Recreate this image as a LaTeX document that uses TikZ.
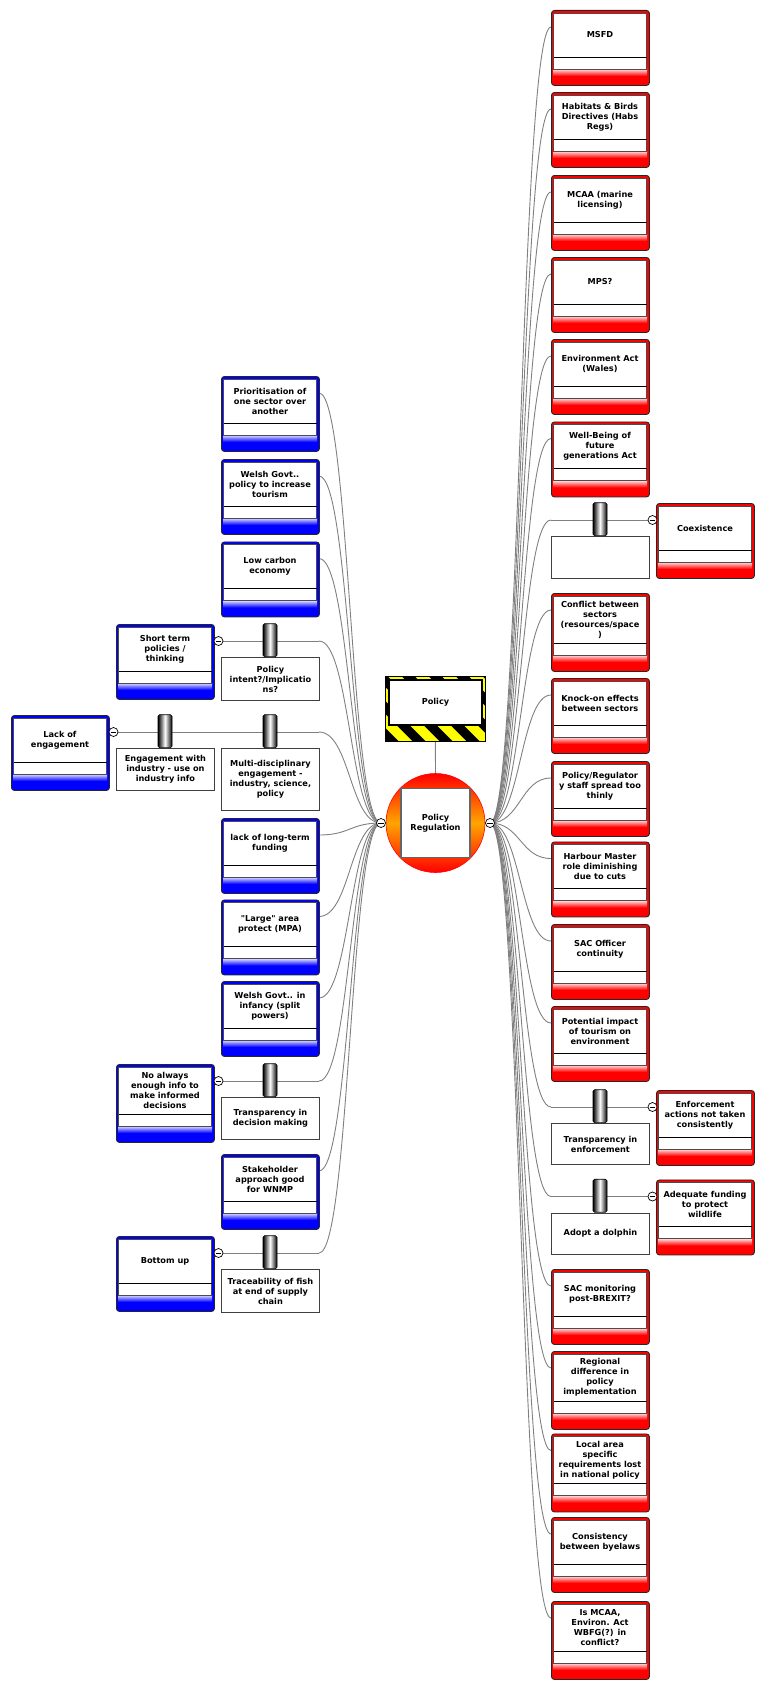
\documentclass[tikz,border=0pt]{standalone}
\usepackage{fontspec}
\setmainfont{DejaVu Sans}[Ligatures=TeXOff]
\usetikzlibrary{calc,backgrounds}

\definecolor{linkgray}{RGB}{128,128,128}
\definecolor{topicred}{RGB}{255,0,0}
\definecolor{topicblue}{RGB}{0,0,255}
\definecolor{huborange}{RGB}{255,165,0}
\definecolor{hazard}{RGB}{255,255,0}

\tikzset{
  link/.style={draw=linkgray, line width=0.9pt},
  hlink/.style={to path={let \p1=(\tikztostart), \p2=(\tikztotarget) in
      .. controls ({(\x1+\x2)/2},\y1) and ({(\x1+\x2)/2},\y2) .. (\tikztotarget)}},
  topicframe/.style={draw=black!85, line width=0.9pt, rounded corners=3pt,
      inner sep=0pt, minimum width=98pt},
  panel/.style={draw=black!70, line width=0.8pt, fill=white},
  divider/.style={draw=black, line width=0.8pt},
  lbl/.style={font=\fontsize{8.2}{10}\selectfont\bfseries, align=center, inner sep=0pt},
  jbox/.style={draw=black!75, line width=0.9pt, fill=white, minimum width=98pt,
      inner sep=0pt, anchor=north west, font=\fontsize{8.2}{10}\selectfont\bfseries,
      align=center},
  barnode/.style={draw=black, line width=0.6pt, minimum width=14pt, minimum height=33pt,
      inner sep=0pt, left color=black, right color=black, middle color=white,
      anchor=south, rounded corners=1.5pt},
  minus/.style={circle, draw=black, fill=white, line width=0.7pt, minimum size=9pt,
      inner sep=0pt,
      path picture={\draw[line width=0.8pt]
        ([xshift=-2.6pt]path picture bounding box.center) --
        ([xshift=2.6pt]path picture bounding box.center);}},
}

% topic card: #1 name, #2 left x, #3 top y, #4 colour, #5 height, #6 text
\newcommand{\topic}[6]{%
  \pgfmathsetmacro{\tR}{#2+98}%
  \pgfmathsetmacro{\tD}{#3+#5-28}%
  \pgfmathsetmacro{\tI}{#3+#5-16}%
  \pgfmathsetmacro{\tC}{(2*#3+#5-25)/2}%
  \node[topicframe, fill=#4, minimum height=#5pt, anchor=north west] (#1) at (#2,#3) {};
  \shade[top color=#4!12, bottom color=#4] (#2+2,\tI) rectangle (\tR-2,\tI+7);
  \draw[panel] (#2+2.5,#3+3) rectangle (\tR-2.5,\tI);
  \draw[divider] (#2+2.5,\tD) -- (\tR-2.5,\tD);
  \node[lbl] (#1-t) at (#2+49,\tC) {#6};
  \coordinate (#1-w) at (#2,#3+17);
  \coordinate (#1-e) at (\tR,#3+17);
}

% junction: #1 name, #2 left x, #3 top of the bar, #4 box height, #5 text
\newcommand{\junction}[5]{%
  \node[jbox, minimum height=#4pt] (#1) at (#2,#3+33) {#5};
  \node[barnode] (#1-bar) at (#2+49,#3+33) {};
  \coordinate (#1-w) at (#2,#3+17);
  \coordinate (#1-e) at (#2+98,#3+17);
}

\begin{document}
\begin{tikzpicture}[x=1pt,y=-1pt]
\useasboundingbox (0,0) rectangle (763,1686);

% central topic
\node[circle, minimum size=99pt, inner sep=0pt, draw=red, line width=0.6pt,
      top color=red, bottom color=red, middle color=huborange] (hub) at (435.5,823) {};
\node[lbl, draw=black!60, line width=1.2pt, fill=white, minimum size=69pt]
      (hub-t) at (435.5,823) {Policy\\Regulation};
\node[minus] (lm) at (381,823) {};
\node[minus] (rm) at (490,823) {};

% hazard-striped category card
\begin{scope}
  \clip (385.7,676.7) rectangle (485,741.7);
  \fill[hazard] (385.7,676.7) rectangle (485,741.7);
  \foreach \k in {-3,...,4}
    \fill[black] ({375+27*\k},676.7) -- ++(13,0) -- ++(65,65) -- ++(-13,0) -- cycle;
\end{scope}
\node[draw=black, line width=0.9pt, minimum width=99.3pt, minimum height=65pt,
      inner sep=0pt] (policy) at (435.35,709.2) {};
\node[lbl, draw=black, line width=1.2pt, fill=white, minimum width=93pt,
      minimum height=45pt] (policy-t) at (435.5,702.5) {Policy};

% right branch
\topic{msfd}{551}{10}{topicred}{75}{MSFD}
\topic{habs}{551}{92}{topicred}{75}{Habitats \& Birds\\Directives (Habs\\Regs)}
\topic{mcaa}{551}{175}{topicred}{75}{MCAA (marine\\licensing)}
\topic{mps}{551}{257}{topicred}{75}{MPS?}
\topic{envact}{551}{339}{topicred}{75}{Environment Act\\(Wales)}
\topic{wellbeing}{551}{421.5}{topicred}{75}{Well-Being of\\future\\generations Act}
\junction{jcoex}{551}{503}{42}{}
\topic{coex}{656}{503}{topicred}{75}{Coexistence}
\topic{conflict}{551}{593}{topicred}{78}{Conflict between\\sectors\\(resources/space\\)}
\topic{knockon}{551}{678}{topicred}{75}{Knock-on effects\\between sectors}
\topic{staff}{551}{761}{topicred}{75}{Policy/Regulator\\y staff spread too\\thinly}
\topic{harbour}{551}{841.5}{topicred}{75}{Harbour Master\\role diminishing\\due to cuts}
\topic{sacofficer}{551}{924}{topicred}{75}{SAC Officer\\continuity}
\topic{tourism}{551}{1006}{topicred}{75}{Potential impact\\of tourism on\\environment}
\junction{jenforce}{551}{1090}{41}{Transparency in\\enforcement}
\topic{enforce}{656}{1090}{topicred}{75}{Enforcement\\actions not taken\\consistently}
\junction{jdolphin}{551}{1179.5}{41}{Adopt a dolphin}
\topic{funding}{656}{1179.5}{topicred}{75}{Adequate funding\\to protect\\wildlife}
\topic{sacmon}{551}{1269}{topicred}{75}{SAC monitoring\\post-BREXIT?}
\topic{regional}{551}{1351}{topicred}{78}{Regional\\difference in\\policy\\implementation}
\topic{localarea}{551}{1433.5}{topicred}{78}{Local area\\specific\\requirements lost\\in national policy}
\topic{byelaws}{551}{1517}{topicred}{75}{Consistency\\between byelaws}
\topic{actsconflict}{551}{1601}{topicred}{78}{Is MCAA,\\Environ. Act\\WBFG(?) in\\conflict?}

\node[minus] (m-coex) at (652.5,520) {};
\node[minus] (m-enforce) at (652.5,1107) {};
\node[minus] (m-funding) at (652.5,1196.5) {};

% left branch
\topic{priority}{221}{376}{topicblue}{75}{Prioritisation of\\one sector over\\another}
\topic{welshtour}{221}{459}{topicblue}{75}{Welsh Govt..\\policy to increase\\tourism}
\topic{lowcarbon}{221}{541.5}{topicblue}{75}{Low carbon\\economy}
\junction{jintent}{221}{624}{43}{Policy\\intent?/Implicatio\\ns?}
\topic{shortterm}{116}{624}{topicblue}{75}{Short term\\policies /\\thinking}
\junction{jmulti}{221}{715}{62}{Multi-disciplinary\\engagement -\\industry, science,\\policy}
\junction{jindustry}{116}{715}{42}{Engagement with\\industry - use on\\industry info}
\topic{lackeng}{11}{715}{topicblue}{75}{Lack of\\engagement}
\topic{longterm}{221}{818}{topicblue}{75}{lack of long-term\\funding}
\topic{largearea}{221}{899.5}{topicblue}{75}{"Large" area\\protect (MPA)}
\topic{infancy}{221}{981}{topicblue}{75}{Welsh Govt.. in\\infancy (split\\powers)}
\junction{jdecision}{221}{1064}{41.5}{Transparency in\\decision making}
\topic{noinfo}{116}{1064}{topicblue}{78}{No always\\enough info to\\make informed\\decisions}
\topic{stakeholder}{221}{1154}{topicblue}{75}{Stakeholder\\approach good\\for WNMP}
\junction{jtrace}{221}{1236}{43}{Traceability of fish\\at end of supply\\chain}
\topic{bottomup}{116}{1236}{topicblue}{75}{Bottom up}

\node[minus] (m-shortterm) at (218.5,641) {};
\node[minus] (m-lackeng) at (113.5,732) {};
\node[minus] (m-noinfo) at (218.5,1081) {};
\node[minus] (m-bottomup) at (218.5,1253) {};

% connectors
\begin{scope}[on background layer]
  \draw[link] (policy.south) -- (hub.north);
  \foreach \q in {msfd,habs,mcaa,mps,envact,wellbeing,jcoex,conflict,knockon,staff,
                  harbour,sacofficer,tourism,jenforce,jdolphin,sacmon,regional,
                  localarea,byelaws,actsconflict}
    \draw[link] (rm.center) to[hlink] (\q-w);
  \foreach \q in {priority,welshtour,lowcarbon,jintent,jmulti,longterm,largearea,
                  infancy,jdecision,stakeholder,jtrace}
    \draw[link] (lm.center) to[hlink] (\q-e);
  \draw[link] (jcoex-w) -- (coex-w);
  \draw[link] (jenforce-w) -- (enforce-w);
  \draw[link] (jdolphin-w) -- (funding-w);
  \draw[link] (jintent-e) -- (shortterm-e);
  \draw[link] (jmulti-e) -- (lackeng-e);
  \draw[link] (jdecision-e) -- (noinfo-e);
  \draw[link] (jtrace-e) -- (bottomup-e);
\end{scope}
\end{tikzpicture}
\end{document}
